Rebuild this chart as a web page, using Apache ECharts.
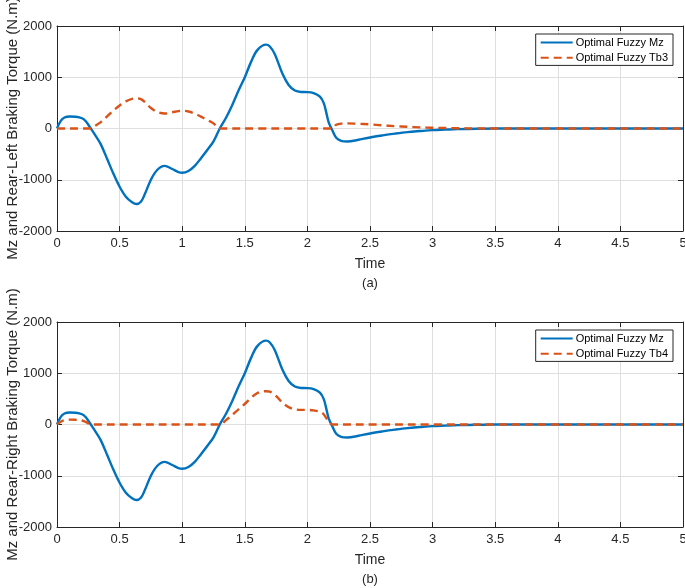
<!DOCTYPE html>
<html>
<head>
<meta charset="utf-8">
<script src="https://cdn.jsdelivr.net/npm/echarts@6/dist/echarts.min.js"></script>
<style>
html,body{margin:0;padding:0;background:#fff;}
#c{width:685px;height:588px;}
</style>
</head>
<body>
<div id="c"></div>
<script>
// Time samples and values
const mzT = [0,0.03,0.06,0.1,0.15,0.2,0.23,0.27,0.3,0.35,0.4,0.45,0.5,0.55,0.6,0.635,0.67,0.7,0.75,0.8,0.86,0.92,0.97,1.0,1.05,1.1,1.15,1.2,1.25,1.3,1.35,1.4,1.45,1.5,1.55,1.6,1.67,1.7,1.74,1.8,1.85,1.9,1.95,2.0,2.05,2.1,2.13,2.15,2.17,2.2,2.23,2.27,2.32,2.4,2.5,2.6,2.7,2.8,2.9,3.0,3.1,3.2,3.35,3.5,4,4.5,5];
const mzV = [0,150,215,235,230,200,140,0,-110,-310,-590,-880,-1136,-1330,-1440,-1474,-1430,-1290,-1000,-810,-730,-790,-850,-864,-830,-730,-580,-420,-250,0,210,460,740,1000,1300,1530,1636,1600,1450,1071,850,740,712,710,690,620,500,320,120,-40,-180,-240,-253,-225,-175,-135,-100,-70,-50,-32,-22,-13,-6,0,0,0,0];

const tb3T = [0,0.1,0.2,0.27,0.3,0.35,0.4,0.45,0.5,0.55,0.6,0.635,0.67,0.7,0.75,0.8,0.86,0.92,0.97,1.0,1.05,1.1,1.15,1.2,1.25,1.3,1.6,1.9,2.2,2.23,2.27,2.32,2.4,2.5,2.6,2.7,2.8,2.9,3.0,3.1,3.2,3.35,3.5,4,4.5,5];
const tb3V = [0,0,0,0,45,125,235,350,450,530,578,590,572,520,400,324,292,316,340,346,332,292,232,168,100,0,0,0,0,72,96,100,92,80,62,46,33,22,14,9,5,2,0,0,0,0];

const tb4T = [0,0.03,0.06,0.1,0.15,0.2,0.23,0.27,0.6,1.0,1.3,1.35,1.4,1.45,1.5,1.55,1.6,1.67,1.7,1.74,1.8,1.85,1.9,1.95,2.0,2.05,2.1,2.13,2.15,2.17,2.2,2.6,3,3.5,4,4.5,5];
const tb4V = [0,55,85,95,92,78,50,0,0,0,0,85,185,296,400,520,612,650,640,580,428,340,296,285,284,276,248,200,128,48,0,0,0,0,0,0,0];

const xTicks = [0,0.5,1,1.5,2,2.5,3,3.5,4,4.5,5];
const yTicks = [-2000,-1000,0,1000,2000];

const zip = (t, v) => t.map((x, i) => [x, v[i]]);

const BLUE = '#0072BD', ORANGE = '#D95319', AX = '#262626', GRIDC = '#dfdfdf';
const FONT = 'Liberation Sans, Arial, Helvetica, sans-serif';

function xAx(gi) {
  return [{
    type: 'value', gridIndex: gi, min: xTicks[0], max: xTicks[xTicks.length - 1], interval: 0.5,
    name: 'Time', nameLocation: 'middle', nameGap: 26, nameMoveOverlap: false,
    nameTextStyle: {fontSize: 14, color: AX, fontFamily: FONT},
    axisLine: {show: true, onZero: false, lineStyle: {color: AX, width: 1}},
    axisTick: {show: true, inside: true, length: 5, lineStyle: {color: AX}},
    axisLabel: {fontSize: 13, color: AX, fontFamily: FONT, margin: 6,
      formatter: v => String(v)},
    splitLine: {show: true, lineStyle: {color: GRIDC, width: 1}}
  }, {
    type: 'value', gridIndex: gi, min: xTicks[0], max: xTicks[xTicks.length - 1], interval: 0.5, position: 'top',
    axisLine: {show: true, onZero: false, lineStyle: {color: AX, width: 1}},
    axisTick: {show: true, inside: true, length: 5, lineStyle: {color: AX}},
    axisLabel: {show: false}, splitLine: {show: false}
  }];
}
function yAx(gi, name) {
  return [{
    type: 'value', gridIndex: gi, min: yTicks[0], max: yTicks[yTicks.length - 1], interval: 1000,
    name: name, nameLocation: 'middle', nameGap: 37, nameMoveOverlap: false,
    nameTextStyle: {fontSize: 15, color: AX, fontFamily: FONT},
    axisLine: {show: true, onZero: false, lineStyle: {color: AX, width: 1}},
    axisTick: {show: true, inside: true, length: 5, lineStyle: {color: AX}},
    axisLabel: {fontSize: 13, color: AX, fontFamily: FONT, margin: 5, formatter: v => String(v)},
    splitLine: {show: true, lineStyle: {color: GRIDC, width: 1}}
  }, {
    type: 'value', gridIndex: gi, min: yTicks[0], max: yTicks[yTicks.length - 1], interval: 1000, position: 'right',
    axisLine: {show: true, onZero: false, lineStyle: {color: AX, width: 1}},
    axisTick: {show: true, inside: true, length: 5, lineStyle: {color: AX}},
    axisLabel: {show: false}, splitLine: {show: false}
  }];
}
function line(name, data, xi, yi, color, dashed) {
  return {
    type: 'line', name: name, data: data, xAxisIndex: xi, yAxisIndex: yi,
    showSymbol: false, symbol: 'none', smooth: 0.35, z: dashed ? 3 : 2,
    lineStyle: {color: color, width: 2.4, type: dashed ? [8, 5] : 'solid'},
    itemStyle: {color: color}, animation: false
  };
}
function legend(names, top) {
  return {
    data: names, orient: 'vertical', right: 12, top: top,
    itemWidth: 32, itemHeight: 14, itemGap: 4, padding: [3, 5, 2, 4],
    itemStyle: {opacity: 0},
    borderColor: AX, borderWidth: 1, backgroundColor: '#fff',
    textStyle: {fontSize: 11, color: '#000', fontFamily: FONT, padding: [0, 0, 0, -2]},
    selectedMode: false
  };
}

const chart = echarts.init(document.getElementById('c'), null, {renderer: 'canvas'});
chart.setOption({
  animation: false,
  backgroundColor: '#fff',
  title: [
    {text: '(a)', top: 277, textStyle: {fontSize: 13, fontWeight: 'normal', color: AX, fontFamily: FONT}, padding: 0, textAlign: 'center', left: 370},
    {text: '(b)', top: 573, textStyle: {fontSize: 13, fontWeight: 'normal', color: AX, fontFamily: FONT}, padding: 0, textAlign: 'center', left: 370}
  ],
  grid: [
    {left: 57, right: 2, top: 26, height: 205, outerBoundsMode: 'none'},
    {left: 57, right: 2, top: 322, height: 205, outerBoundsMode: 'none'}
  ],
  xAxis: [...xAx(0), ...xAx(1)],
  yAxis: [...yAx(0, 'Mz and Rear-Left Braking Torque (N.m)'), ...yAx(1, 'Mz and Rear-Right Braking Torque (N.m)')],
  legend: [
    legend(['Optimal Fuzzy Mz', 'Optimal Fuzzy Tb3'], 34),
    legend(['Optimal Fuzzy Mz', 'Optimal Fuzzy Tb4'], 330)
  ],
  series: [
    line('Optimal Fuzzy Mz', zip(mzT, mzV), 0, 0, BLUE, false),
    line('Optimal Fuzzy Tb3', zip(tb3T, tb3V), 0, 0, ORANGE, true),
    line('Optimal Fuzzy Mz', zip(mzT, mzV), 2, 2, BLUE, false),
    line('Optimal Fuzzy Tb4', zip(tb4T, tb4V), 2, 2, ORANGE, true)
  ]
});
</script>
</body>
</html>
